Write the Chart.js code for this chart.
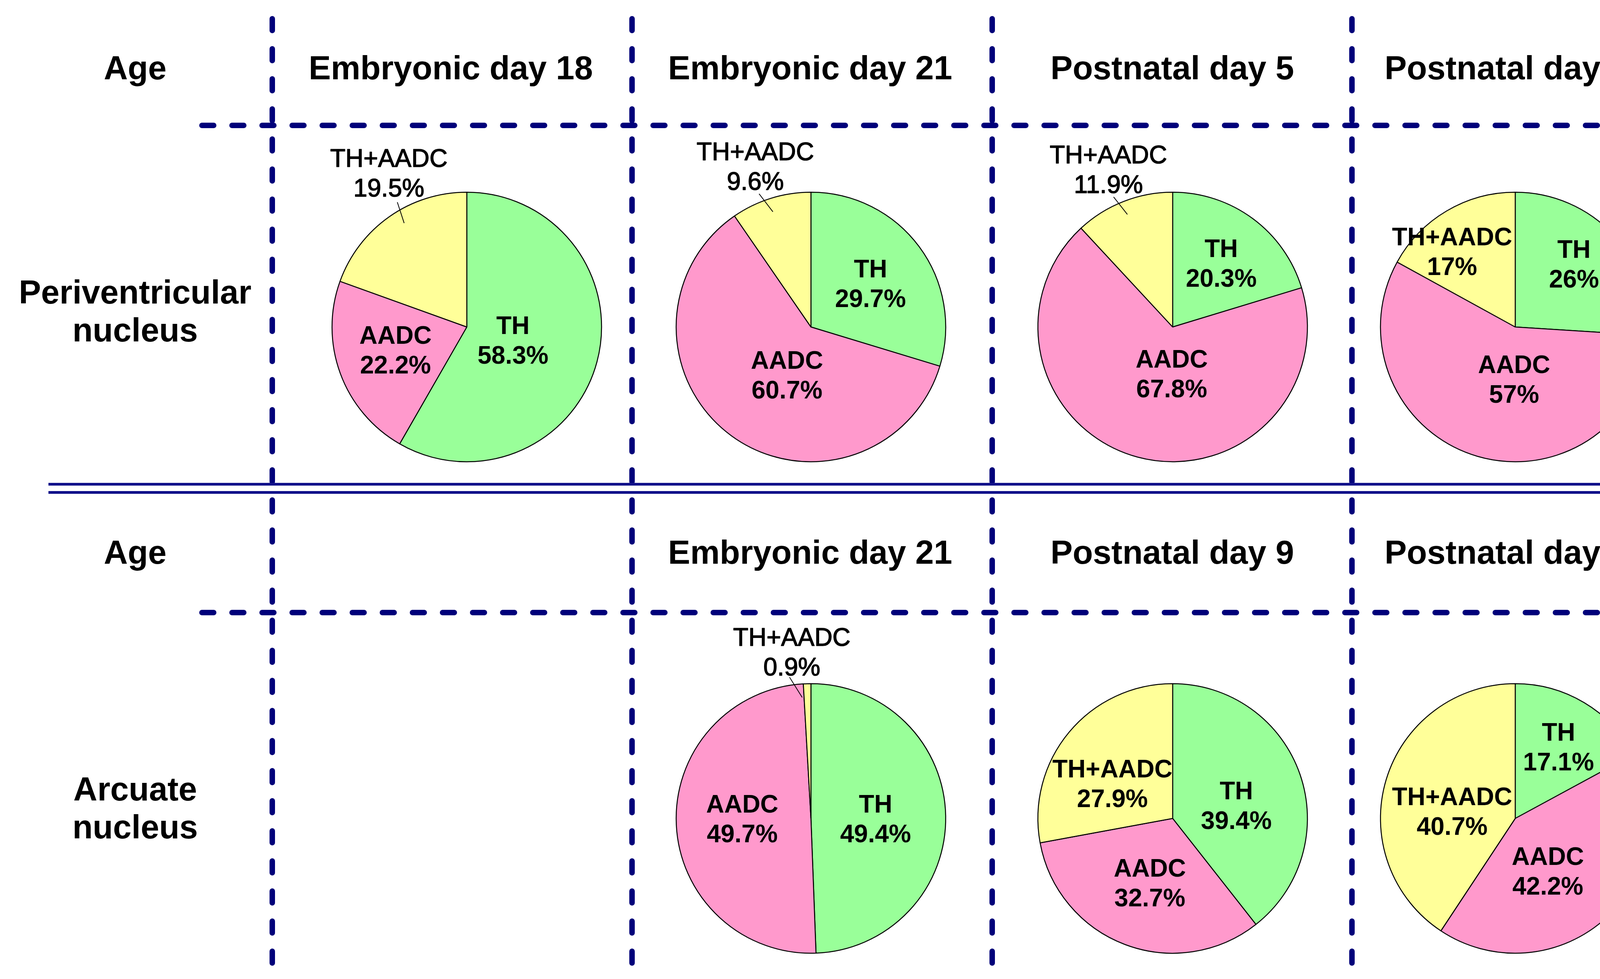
<!DOCTYPE html>
<html>
<head>
<meta charset="utf-8">
<title>TH / AADC neurons by age</title>
<script src="https://cdn.jsdelivr.net/npm/chart.js@4.4.1/dist/chart.umd.min.js"></script>
<style>
  html, body { margin: 0; padding: 0; background: #fff; }
  #page { position: relative; width: 4292px; height: 2506px; overflow: hidden;
          font-family: "Liberation Sans", Arial, sans-serif; }
  #grid { position: absolute; left: 0; top: 0; }
  .txt { position: absolute; transform: translate(-50%, -50%); font-weight: bold;
         font-size: 85px; line-height: 1; white-space: nowrap; text-align: center; color: #000; }
  .txt.two { line-height: 97px; }
  .pie { position: absolute; }
</style>
</head>
<body>
<div id="page">
  <canvas id="grid" width="4292" height="2506"></canvas>
</div>
<script>
/* global Chart */
// data
const categories = ['TH', 'AADC', 'TH+AADC'];
const rowTitles = ['Periventricular\nnucleus', 'Arcuate\nnucleus'];
const agesPeri = ['Embryonic day 18', 'Embryonic day 21', 'Postnatal day 5', 'Postnatal day 30'];
const agesArc = ['', 'Embryonic day 21', 'Postnatal day 9', 'Postnatal day 80'];

const periTH = [58.3, 29.7, 20.3, 26];
const periAADC = [22.2, 60.7, 67.8, 57];
const periBoth = [19.5, 9.6, 11.9, 17];

const arcTH = [null, 49.4, 39.4, 17.1];
const arcAADC = [null, 49.7, 32.7, 42.2];
const arcBoth = [null, 0.9, 27.9, 40.7];

const sliceColors = ['#99FF99', '#FF99CC', '#FFFF99'];

// layout (page pixels)
const headerX = [1154, 2074, 3001, 3880];
const pieX = [1195, 2076, 3002, 3879];
const headerY = [173, 1413];
const pieY = [837, 2095];
const titleX = 346;
const titleY = [796, 2068];
const vLineX = [697, 1618, 2540, 3461];
const pieRadius = 345;

// label placement per slice: [fraction of radius, angle shift in degrees]
const periLabelPos = [
  [[0.36, 3], [0.56, 1], [1.27, 8]],
  [[0.54, 1.5], [0.41, -10.5], [1.25, -2]],
  [[0.585, 1.5], [0.36, -14], [1.25, -1]],
  [[0.63, -3], [0.40, -15], [0.72, -10]]
];
const arcLabelPos = [
  null,
  [[0.48, 3], [0.51, 1], [1.23, -5]],
  [[0.48, 9], [0.52, -1.7], [0.51, -11]],
  [[0.61, 1], [0.47, 11.5], [0.47, -12]]
];

const page = document.getElementById('page');

function addText(str, x, y, cls) {
  const d = document.createElement('div');
  d.className = 'txt' + (cls ? ' ' + cls : '');
  d.style.left = x + 'px';
  d.style.top = y + 'px';
  d.innerHTML = str.split('\n').join('<br>');
  page.appendChild(d);
}

function drawGrid() {
  const g = document.getElementById('grid').getContext('2d');
  g.strokeStyle = '#00007a';
  g.lineWidth = 14;
  g.lineCap = 'round';
  g.setLineDash([30, 47]);
  vLineX.forEach(x => {
    g.beginPath(); g.moveTo(x, 48); g.lineTo(x, 2488); g.stroke();
  });
  [321, 1568].forEach(y => {
    g.beginPath(); g.moveTo(517, y); g.lineTo(4232, y); g.stroke();
  });
  g.setLineDash([]);
  g.lineCap = 'butt';
  g.lineWidth = 7;
  g.strokeStyle = '#10108a';
  [1239.5, 1260.5].forEach(y => {
    g.beginPath(); g.moveTo(124, y); g.lineTo(4236, y); g.stroke();
  });
}

const sliceLabels = {
  id: 'sliceLabels',
  afterDatasetsDraw(chart, args, opts) {
    const ctx = chart.ctx;
    const meta = chart.getDatasetMeta(0);
    const values = chart.data.datasets[0].data;
    meta.data.forEach((arc, i) => {
      const p = arc.getProps(['x', 'y', 'startAngle', 'endAngle', 'outerRadius'], true);
      const mid = (p.startAngle + p.endAngle) / 2;
      const [f, shift] = opts.place[i];
      const a = mid + shift * Math.PI / 180;
      const r = p.outerRadius;
      const cx = p.x + Math.cos(a) * r * f;
      const cy = p.y + Math.sin(a) * r * f;
      const outside = f > 1;
      const lines = [chart.data.labels[i], values[i] + '%'];
      ctx.save();
      ctx.strokeStyle = '#000';
      if (outside) {
        // leader line from the label into the slice
        const a0 = a - 2 * Math.PI / 180;
        const a1 = (a + mid) / 2;
        ctx.beginPath();
        ctx.moveTo(p.x + Math.cos(a0) * r * 1.06, p.y + Math.sin(a0) * r * 1.06);
        ctx.lineTo(p.x + Math.cos(a1) * r * 0.9, p.y + Math.sin(a1) * r * 0.9);
        ctx.lineWidth = 2;
        ctx.stroke();
      }
      ctx.font = (outside ? 'normal' : 'bold') + ' 64px "Liberation Sans", Arial, sans-serif';
      ctx.fillStyle = '#000';
      ctx.textAlign = 'center';
      ctx.textBaseline = 'middle';
      ctx.lineWidth = 1.6;
      ctx.lineJoin = 'round';
      lines.forEach((t, k) => {
        const ty = cy + (k === 0 ? -38 : 38);
        ctx.fillText(t, cx, ty);
        if (outside) ctx.strokeText(t, cx, ty);
      });
      ctx.restore();
    });
  }
};

function makePie(x, y, values, place) {
  const w = 900, h = 1100;
  const cv = document.createElement('canvas');
  cv.className = 'pie';
  cv.width = w; cv.height = h;
  cv.style.width = w + 'px'; cv.style.height = h + 'px';
  cv.style.left = (x - w / 2) + 'px';
  cv.style.top = (y - h / 2) + 'px';
  page.appendChild(cv);
  return new Chart(cv.getContext('2d'), {
    type: 'pie',
    data: {
      labels: categories,
      datasets: [{
        data: values,
        backgroundColor: sliceColors,
        borderColor: '#000',
        borderWidth: 2.5,
        radius: pieRadius
      }]
    },
    options: {
      responsive: false,
      animation: false,
      devicePixelRatio: 1,
      layout: { padding: 0 },
      plugins: {
        legend: { display: false },
        tooltip: { enabled: false },
        sliceLabels: { place: place }
      }
    },
    plugins: [sliceLabels]
  });
}

drawGrid();

addText('Age', titleX, headerY[0]);
addText('Age', titleX, headerY[1]);
addText(rowTitles[0], titleX, titleY[0], 'two');
addText(rowTitles[1], titleX, titleY[1], 'two');

agesPeri.forEach((t, i) => addText(t, headerX[i], headerY[0]));
agesArc.forEach((t, i) => { if (t) addText(t, headerX[i], headerY[1]); });

agesPeri.forEach((t, i) => {
  makePie(pieX[i], pieY[0], [periTH[i], periAADC[i], periBoth[i]], periLabelPos[i]);
});
agesArc.forEach((t, i) => {
  if (arcTH[i] === null) return;
  makePie(pieX[i], pieY[1], [arcTH[i], arcAADC[i], arcBoth[i]], arcLabelPos[i]);
});
</script>
</body>
</html>
